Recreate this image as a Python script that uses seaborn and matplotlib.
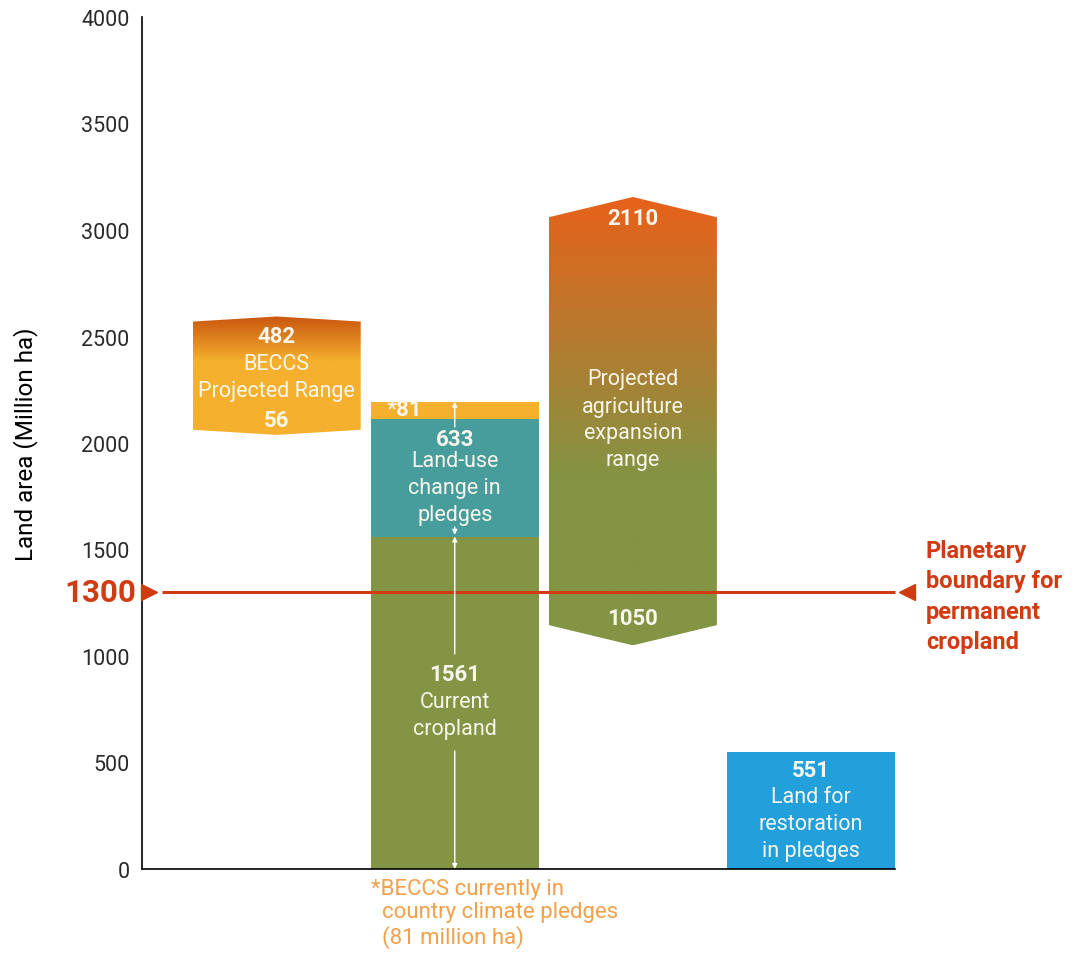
import numpy as np
import pandas as pd
import matplotlib
matplotlib.use("Agg")
import matplotlib.pyplot as plt
import seaborn as sns
from matplotlib.patches import Polygon
from matplotlib.colors import LinearSegmentedColormap

# ---------------- data ----------------
categories = ["BECCS", "Cropland", "Agriculture", "Restoration"]
current_cropland = 1561
pledge_luc = 633          # land-use change in pledges (incl. BECCS)
beccs_in_pledges = 81
restoration = 551
beccs_low, beccs_high = 2050, 2585
beccs_range_top, beccs_range_bottom = 482, 56
agri_low = 1050
agri_range = 2110
boundary = 1300
y_ticks = [0, 500, 1000, 1500, 2000, 2500, 3000, 3500, 4000]

# ---------------- style ----------------
sns.set_style("white")
plt.rcParams['font.family'] = ['Roboto', 'DejaVu Sans']

GREEN = "#839444"
TEAL = "#479d9b"
YELLOW = "#f5b02e"
BLUE = "#22a0db"
RED = "#d13b14"
ORANGE_TXT = "#f2a04a"
WHITE_TXT = "#f8f6ec"

fig = plt.figure(figsize=(10.75, 9.54), dpi=100)
ax = fig.add_axes([142/1075, 84/954, (895-142)/1075, (936-84)/954])

# layered (stacked) bars for the cropland column, and restoration bar
top_total = current_cropland + pledge_luc
df = pd.DataFrame({"cat": categories,
                   "yellow": [0, top_total, 0, 0],
                   "teal": [0, top_total - beccs_in_pledges, 0, 0],
                   "green": [0, current_cropland, 0, 0],
                   "blue": [0, 0, 0, restoration]})
W = 0.944
for col, c in [("yellow", YELLOW), ("teal", TEAL), ("green", GREEN), ("blue", BLUE)]:
    sns.barplot(data=df, x="cat", y=col, order=categories, color=c, width=W,
                saturation=1, ax=ax, linewidth=0)

# gradient arrow-shaped ranges
def gradient_shape(xc, lo, hi, tip, stops, zorder=2):
    x0, x1 = xc - W/2, xc + W/2
    verts = [(x0, lo), (xc, lo - tip), (x1, lo), (x1, hi), (xc, hi + tip), (x0, hi)]
    poly = Polygon(verts, closed=True, facecolor="none", edgecolor="none")
    ax.add_patch(poly)
    cmap = LinearSegmentedColormap.from_list("g", stops)
    grad = np.linspace(1, 0, 256).reshape(-1, 1)
    im = ax.imshow(grad, cmap=cmap, aspect="auto", extent=[x0, x1, lo - tip, hi + tip],
                   origin="upper", zorder=zorder, interpolation="bilinear")
    im.set_clip_path(poly)

# BECCS
gradient_shape(0, beccs_low + 12, beccs_high - 15, 24,
               [(0.0, YELLOW), (0.62, YELLOW), (1.0, "#c9560f")])
# Agriculture
gradient_shape(2, agri_low + 95, agri_low + agri_range - 100, 95,
               [(0.0, GREEN), (0.37, GREEN), (1.0, "#e8611a")])

ax.set_xlim(-0.756, 3.472)
ax.set_ylim(0, 4000)
ax.set_yticks(y_ticks)
ax.set_yticklabels([str(t) for t in y_ticks], fontsize=15.5, color="#2a2a2a",
                   fontweight="normal")
ax.tick_params(axis="y", length=0, pad=9)
ax.set_xticks([])
ax.set_xlabel("")
ax.set_ylabel("Land area (Million ha)", fontsize=17.5, color="black")
ax.yaxis.set_label_coords(-0.138, 0.5)
for s in ["top", "right"]:
    ax.spines[s].set_visible(False)
for s in ["left", "bottom"]:
    ax.spines[s].set_color("black")
    ax.spines[s].set_linewidth(1.2)

def py(p):
    return (870 - p) / (852 / 4000)

# boundary line
ax.plot([-0.643, 3.472], [boundary, boundary], color=RED, lw=2.2, zorder=5,
        clip_on=False, solid_capstyle="butt")
ax.plot([-0.716], [boundary], marker=">", color=RED, ms=11, clip_on=False, zorder=6)
ax.plot([3.54], [boundary], marker="<", color=RED, ms=11, clip_on=False, zorder=6)
ax.text(-0.79, boundary, str(boundary), color=RED, fontsize=22.5, fontweight="bold",
        ha="right", va="center")
ax.text(3.645, py(597), "Planetary\nboundary for\npermanent\ncropland", color=RED,
        fontsize=17, fontweight="bold", ha="left", va="center", linespacing=1.4,
        clip_on=False)

# white dimension arrows in cropland column
ap = dict(arrowstyle="-|>", color="white", lw=1, mutation_scale=7, shrinkA=0, shrinkB=0)
ax.annotate("", xy=(1, 0), xytext=(1, py(752)), arrowprops=ap, zorder=6)
ax.annotate("", xy=(1, current_cropland), xytext=(1, py(655)), arrowprops=ap, zorder=6)
ax.annotate("", xy=(1, current_cropland + 8), xytext=(1, py(528)), arrowprops=ap, zorder=6)
ax.annotate("", xy=(1, top_total), xytext=(1, py(428)), arrowprops=ap, zorder=6)

def lab(x, y, s, bold=False, size=15.5, color=WHITE_TXT, ha="center"):
    ax.text(x, y, s, ha=ha, va="center", color=color,
            fontsize=16 if bold else size,
            fontweight="bold" if bold else "normal", zorder=7)

# BECCS labels
lab(0, py(337), str(beccs_range_top), bold=True)
lab(0, py(364), "BECCS")
lab(0, py(391), "Projected Range")
lab(0, py(421), str(beccs_range_bottom), bold=True)
# cropland column labels
lab(0.62, py(410), f"*{beccs_in_pledges}", bold=True, ha="left")
lab(1, py(440), str(pledge_luc), bold=True)
lab(1, py(462), "Land-use")
lab(1, py(489), "change in")
lab(1, py(516), "pledges")
lab(1, py(675), str(current_cropland), bold=True)
lab(1, py(703), "Current")
lab(1, py(730), "cropland")
# agriculture labels
lab(2, py(219), str(agri_range), bold=True)
lab(2, py(380), "Projected")
lab(2, py(407), "agriculture")
lab(2, py(434), "expansion")
lab(2, py(461), "range")
lab(2, py(619), str(agri_low), bold=True)
# restoration labels
lab(3, py(771), str(restoration), bold=True)
lab(3, py(798), "Land for")
lab(3, py(825), "restoration")
lab(3, py(852), "in pledges")

# footnote
ax.text(0.53, py(879), "*BECCS currently in\n  country climate pledges\n  (81 million ha)",
        color=ORANGE_TXT, fontsize=16, fontweight="normal", ha="left", va="top",
        linespacing=1.15, clip_on=False)

fig.savefig("out.png", dpi=100)
